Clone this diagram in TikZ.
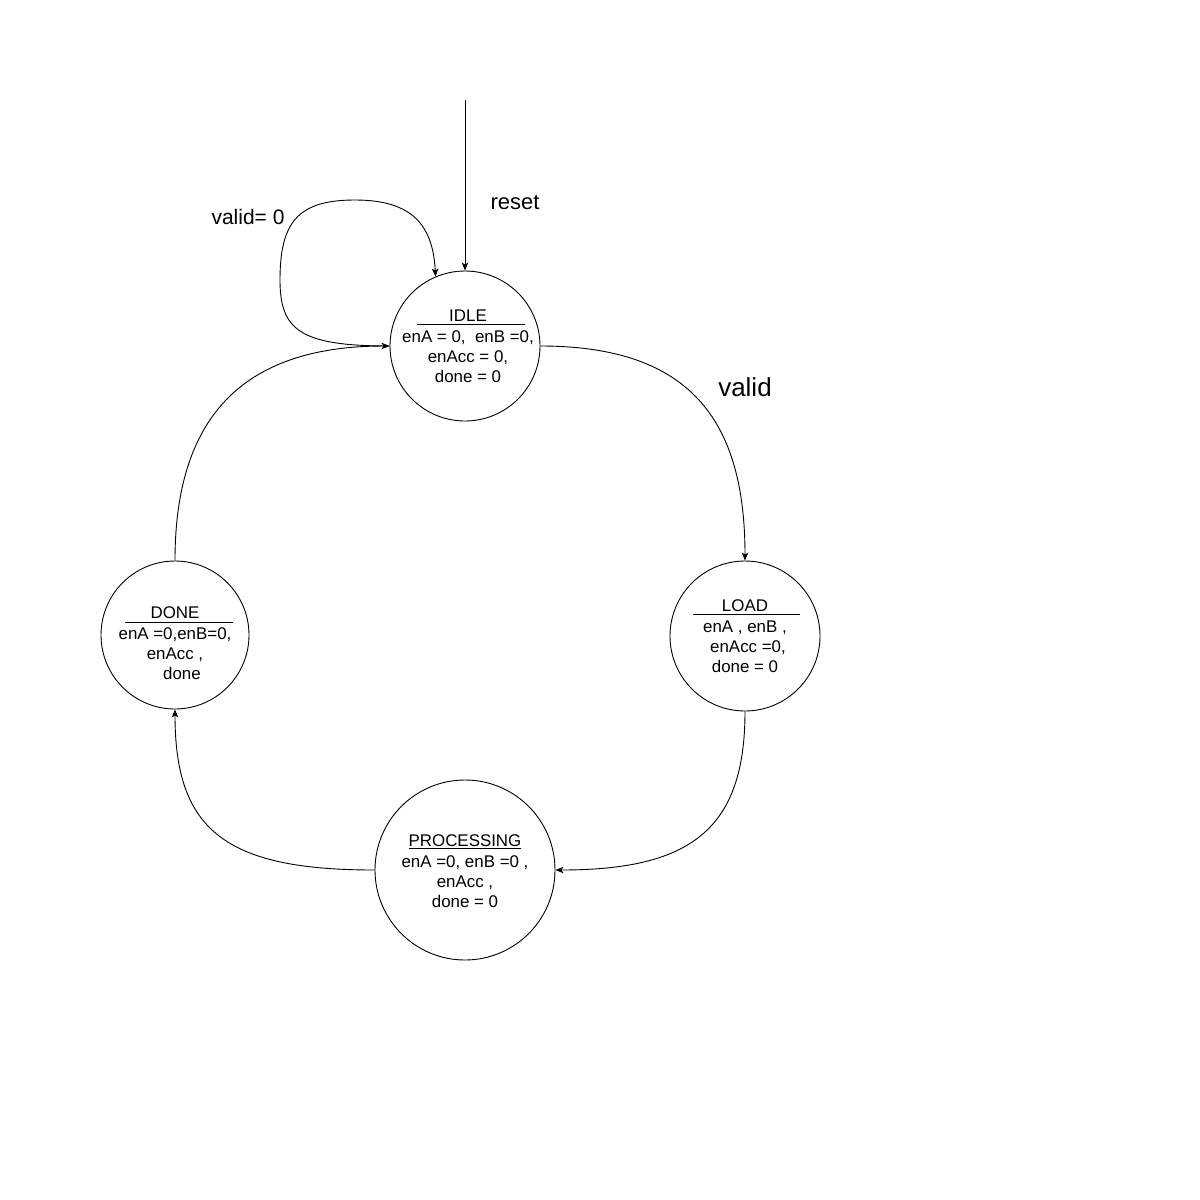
\documentclass[tikz,border=0pt]{standalone}
\usepackage{fontspec}
\setmainfont{Liberation Sans}
\usetikzlibrary{arrows.meta}
\begin{document}
\begin{tikzpicture}[x=1pt,y=-1pt,
  state/.style={draw,circle,line width=0.9pt,inner sep=0pt},
  edge/.style={draw,line width=0.9pt,-{Stealth[length=8pt,width=6.5pt,inset=2pt]}},
  stxt/.style={align=center,font=\fontsize{16.9}{20.3}\selectfont,inner sep=0pt},
  lbl/.style={inner sep=0pt},
  rule/.style={line width=0.9pt}]
\useasboundingbox[fill=white] (0,0) rectangle (1200,1200);

% states
\node[state,minimum size=150pt] (idle) at (465,346) {};
\node[state,minimum size=150pt] (load) at (745,636) {};
\node[state,minimum size=180pt] (proc) at (465,870) {};
\node[state,minimum size=148pt] (done) at (175,635) {};

% state contents
\node[stxt] (idletxt) at (468,346.5) {IDLE\\enA = 0,~ enB =0,\\enAcc = 0,\\done = 0};
\node[stxt] (loadtxt) at (745,636.5) {LOAD\\enA , enB ,\\\hspace*{6pt}enAcc =0,\\done = 0};
\node[stxt] (proctxt) at (465,871.5) {\underline{PROCESSING}\\enA =0, enB =0 ,\\enAcc ,\\done = 0};
\node[stxt] (donetxt) at (175,643.5) {DONE\\enA =0,enB=0,\\enAcc ,\\\hspace*{14pt}done};

% separator rules under the state names
\draw[rule] (417,324) -- (525,324);
\draw[rule] (693,614) -- (800,614);
\draw[rule] (125,622) -- (233,622);

% reset entry
\coordinate (rst) at (465,100);
\draw[edge] (rst) -- (idle.north);
\node[lbl,font=\fontsize{22}{26}\selectfont] (rstlbl) at (515,202) {reset};

% self loop on IDLE
\draw[edge] (idle.west) .. controls (300,346) and (280,330) .. (280,280)
  .. controls (280,222) and (298,200) .. (355,200)
  .. controls (412,200) and (433,225) .. (idle.113);
\node[lbl,font=\fontsize{21}{25}\selectfont] (looplbl) at (248,217) {valid= 0};

% transitions
\draw[edge] (idle.east) .. controls (690,346) and (745,420) .. (load.north);
\node[lbl,font=\fontsize{26}{30}\selectfont] (validlbl) at (745,387) {valid};
\draw[edge] (load.south) .. controls (745,830) and (690,870) .. (proc.east);
\draw[edge] (proc.west) .. controls (225,870) and (175,830) .. (done.south);
\draw[edge] (done.north) .. controls (175,420) and (240,346) .. (idle.west);
\end{tikzpicture}
\end{document}
